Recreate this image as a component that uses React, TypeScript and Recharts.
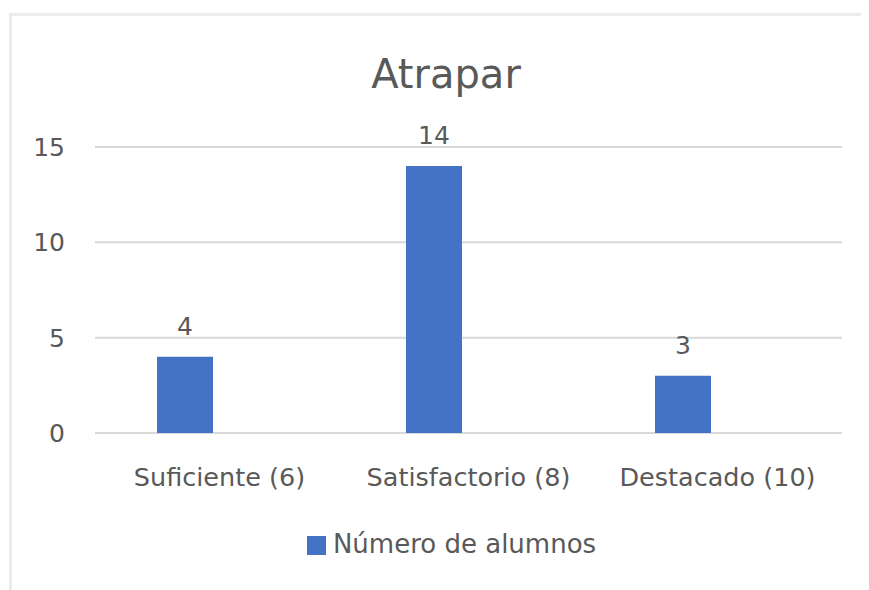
import { BarChart, Bar, XAxis, YAxis, CartesianGrid, Legend, LabelList } from 'recharts'

const title = 'Atrapar'
const categories = ['Suficiente (6)', 'Satisfactorio (8)', 'Destacado (10)']
const alumnos = [4, 14, 3]
const yTicks = [0, 5, 10, 15]
const seriesName = 'Número de alumnos'

const data = categories.map((name, i) => ({ name, alumnos: alumnos[i] }))

const FONT = '"DejaVu Sans", sans-serif'
const TEXT = '#595959'
const BLUE = '#4472C4'
const GRID = '#d9d9d9'

export default function App() {
    return (
        <div
            style={{
                position: 'relative',
                width: 861,
                height: 582,
                overflow: 'hidden',
                background: '#fff',
                fontFamily: FONT,
            }}
        >
            <BarChart
                width={861}
                height={582}
                data={data}
                margin={{ top: 139, right: 27, left: 0, bottom: 0 }}
                barSize={56}
                barGap={13}
            >
                <CartesianGrid vertical={false} stroke={GRID} strokeWidth={2} />
                <XAxis
                    dataKey="name"
                    height={157}
                    axisLine={false}
                    tickLine={false}
                    tickSize={0}
                    tickMargin={35}
                    tick={{ fill: TEXT, fontSize: 25.5, fontFamily: FONT }}
                />
                <YAxis
                    width={87}
                    domain={[0, 15]}
                    ticks={yTicks}
                    axisLine={false}
                    tickLine={false}
                    tickSize={0}
                    tickMargin={30}
                    tick={{ fill: TEXT, fontSize: 25, fontFamily: FONT }}
                />
                {/* middle + center keeps the legend from shifting the plot area */}
                <Legend
                    verticalAlign="middle"
                    align="center"
                    iconType="square"
                    iconSize={19}
                    wrapperStyle={{ top: 521, left: 18, width: 861, fontSize: 26, fontFamily: FONT }}
                    formatter={(value: string) => (
                        <span style={{ color: TEXT, paddingLeft: 3 }}>{value}</span>
                    )}
                />
                <Bar dataKey="alumnos" name={seriesName} fill={BLUE} isAnimationActive={false}>
                    <LabelList
                        dataKey="alumnos"
                        position="top"
                        offset={22}
                        fill={TEXT}
                        fontSize={25}
                        fontFamily={FONT}
                    />
                </Bar>
                <Bar dataKey="placeholder" legendType="none" fill="none" isAnimationActive={false} />
            </BarChart>
            <div
                style={{
                    position: 'absolute',
                    left: 1,
                    top: 5,
                    width: 1000,
                    height: 1000,
                    borderTop: '3px solid #ececec',
                    borderLeft: '3px solid #ececec',
                    pointerEvents: 'none',
                }}
            />
            <div
                style={{
                    position: 'absolute',
                    left: 15,
                    width: 846,
                    top: 46,
                    textAlign: 'center',
                    fontSize: 40,
                    lineHeight: '40px',
                    color: TEXT,
                }}
            >
                {title}
            </div>
        </div>
    )
}
